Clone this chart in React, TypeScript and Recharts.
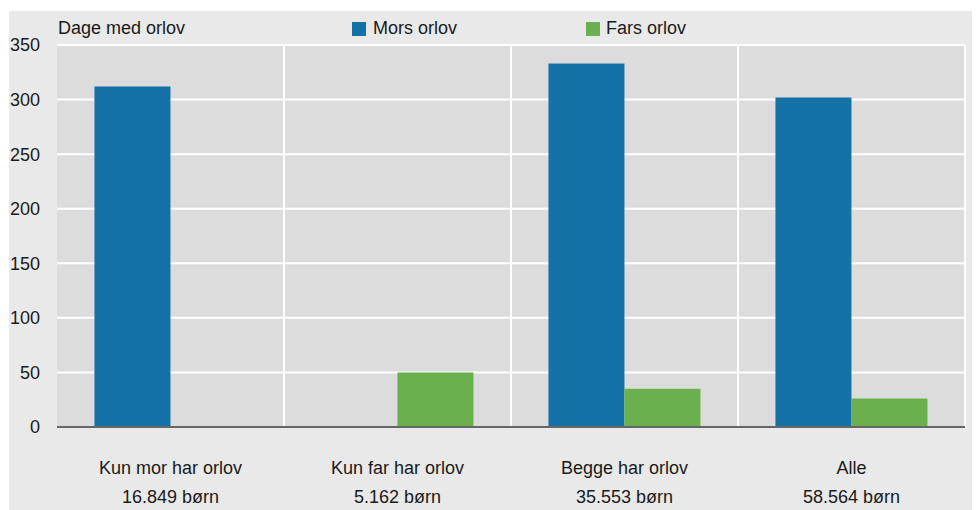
import React from "react";
import { BarChart, Bar, XAxis, YAxis, CartesianGrid, Legend } from "recharts";

const categories = ["Kun mor har orlov", "Kun far har orlov", "Begge har orlov", "Alle"];
const childCounts = ["16.849 børn", "5.162 børn", "35.553 børn", "58.564 børn"];
const morsOrlov = [312, 0, 333, 302];
const farsOrlov = [0, 50, 35, 26];
const yTicks = [0, 50, 100, 150, 200, 250, 300, 350];
const seriesNames = ["Mors orlov", "Fars orlov"];
const yTitle = "Dage med orlov";

const BLUE = "#1471a5";
const GREEN = "#6ab04e";
const FONT = "'Liberation Sans', Arial, sans-serif";
const TEXT = "#1a1a1a";

const data = categories.map((c, i) => ({
  name: c,
  count: childCounts[i],
  mor: morsOrlov[i],
  far: farsOrlov[i],
}));

const XTick = (props: any) => {
  const { x, y, payload } = props;
  const idx = categories.indexOf(payload.value);
  return (
    <g>
      <text x={x} y={y} textAnchor="middle" fill={TEXT} fontSize={18} fontFamily={FONT}>
        <tspan x={x} dy={45}>{payload.value}</tspan>
        <tspan x={x} dy={29}>{childCounts[idx]}</tspan>
      </text>
    </g>
  );
};

const LegendContent = () => (
  <div style={{ position: "relative", width: 971, height: 34, fontFamily: FONT, fontSize: 18, color: TEXT }}>
    <span style={{ position: "absolute", left: 49, top: 6, lineHeight: "22px" }}>{yTitle}</span>
    <span style={{ position: "absolute", left: 343, top: 11, width: 14, height: 14, background: BLUE }} />
    <span style={{ position: "absolute", left: 364, top: 6, lineHeight: "22px" }}>{seriesNames[0]}</span>
    <span style={{ position: "absolute", left: 577, top: 11, width: 14, height: 14, background: GREEN }} />
    <span style={{ position: "absolute", left: 597, top: 6, lineHeight: "22px" }}>{seriesNames[1]}</span>
  </div>
);

export default function App() {
  return (
    <div style={{ paddingTop: 3, paddingLeft: 1 }}>
      <div style={{ width: 971, height: 499, background: "#e9e9e9" }}>
        <BarChart
          width={971}
          height={499}
          data={data}
          margin={{ top: 34, right: 15, left: 0, bottom: 0 }}
          barGap={0}
          barCategoryGap="16.5%"
        >
          <CartesianGrid
            fill="#dcdcdc"
            stroke="#ffffff"
            strokeWidth={2}
            verticalCoordinatesGenerator={(p: any) => {
              const off = p.offset;
              return [1, 2, 3, 4].map((i) => off.left + (off.width * i) / categories.length);
            }}
          />
          <XAxis
            dataKey="name"
            height={83}
            tick={<XTick />}
            tickLine={false}
            tickSize={0}
            axisLine={{ stroke: "#666666", strokeWidth: 2 }}
            interval={0}
          />
          <YAxis
            width={48}
            domain={[0, 350]}
            ticks={yTicks}
            axisLine={false}
            tickLine={false}
            tickSize={0}
            tickMargin={17}
            tick={{ fill: TEXT, fontSize: 18, fontFamily: FONT }}
          />
          <Legend
            layout="horizontal"
            verticalAlign="middle"
            align="center"
            content={<LegendContent />}
            wrapperStyle={{ top: 0, left: 0, width: 971, height: 34 }}
          />
          <Bar dataKey="mor" name={seriesNames[0]} fill={BLUE} isAnimationActive={false} />
          <Bar dataKey="far" name={seriesNames[1]} fill={GREEN} isAnimationActive={false} />
        </BarChart>
      </div>
    </div>
  );
}
